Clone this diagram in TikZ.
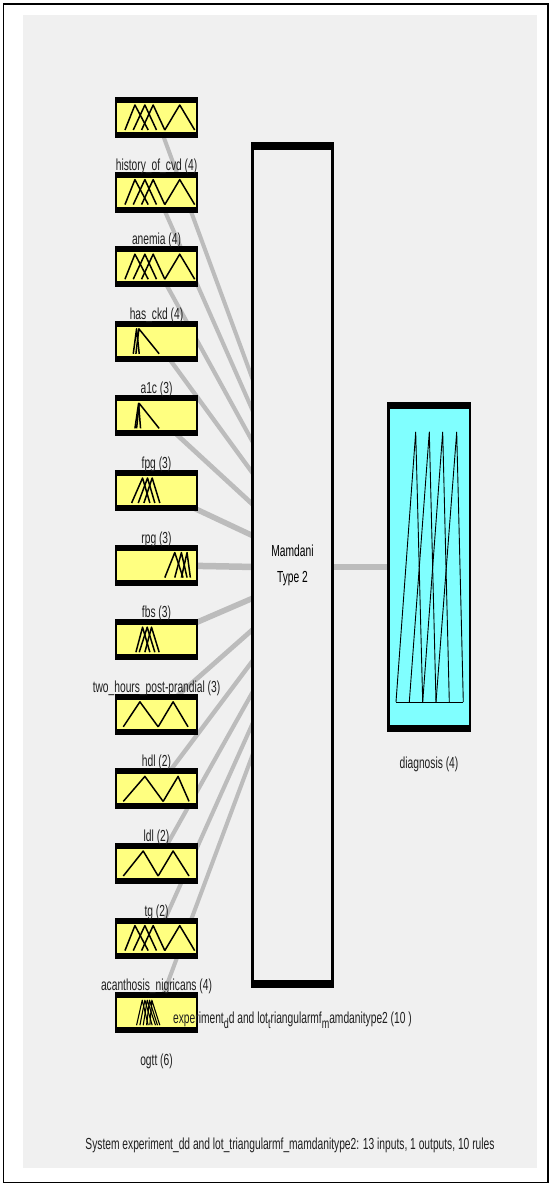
\documentclass[tikz,border=0pt]{standalone}
\usepackage{fontspec}
\setmainfont{Liberation Sans}
\usepackage{graphicx}
\usetikzlibrary{calc}
\pgfdeclarelayer{backdrop}
\pgfdeclarelayer{background}
\pgfsetlayers{backdrop,background,main}

\definecolor{panel}{RGB}{240,240,240}
\definecolor{mfyellow}{RGB}{255,255,128}
\definecolor{mfcyan}{RGB}{128,255,255}
\definecolor{wirecol}{RGB}{188,188,188}

% narrow (condensed) text
\newcommand{\sq}[1]{\scalebox{0.64}[1]{#1}}
% lowered subscript letter
\newcommand{\sbs}[1]{\raisebox{-0.6ex}{\fontsize{14}{14}\selectfont #1}}
% membership functions of one input box: list of left/peak/right
\newcommand{\mfs}[3][1.5pt]{%
  \begin{scope}[shift={(#2.north west)}, x=0.332pt]
    \foreach \ta/\tb/\tc in {#3} {\draw[mfline, line width=#1] (\ta,33) -- (\tb,8) -- (\tc,33);}
  \end{scope}}

\tikzset{
  inbox/.style={rectangle, fill=black, minimum width=83pt, minimum height=41pt,
    inner sep=0pt, outer sep=0pt,
    path picture={\fill[mfyellow] ([xshift=2pt,yshift=6pt]path picture bounding box.south west)
      rectangle ([xshift=-2pt,yshift=-6pt]path picture bounding box.north east);}},
  outbox/.style={rectangle, fill=black, minimum width=84pt, minimum height=330pt,
    inner sep=0pt, outer sep=0pt,
    path picture={\fill[mfcyan] ([xshift=2.5pt,yshift=7pt]path picture bounding box.south west)
      rectangle ([xshift=-2.5pt,yshift=-7pt]path picture bounding box.north east);}},
  sysbox/.style={rectangle, draw=black, line width=3pt, fill=panel, minimum width=80pt,
    minimum height=843pt, inner sep=0pt, outer sep=0pt, align=center,
    font=\fontsize{16}{26}\selectfont,
    path picture={
      \fill[black] (path picture bounding box.north west) rectangle ([yshift=-6pt]path picture bounding box.north east);
      \fill[black] (path picture bounding box.south west) rectangle ([yshift=7pt]path picture bounding box.south east);}},
  lbl/.style={inner sep=0pt, font=\fontsize{16}{18}\selectfont, text=black!88},
  mfline/.style={black, line join=round},
  outmf/.style={black, line width=0.9pt, line join=round},
  wire/.style={wirecol}
}

\begin{document}
\begin{tikzpicture}[x=1pt,y=-1pt]
\useasboundingbox (0,0) rectangle (550,1184);

% figure frame and grey panel
\begin{pgfonlayer}{backdrop}
  \fill[white] (0,0) rectangle (550,1184);
  \draw[line width=1.2pt] (3.5,4) rectangle (548,1182.5);
  \fill[panel] (23,15) rectangle (537,1168);
\end{pgfonlayer}

% input variable boxes
\foreach \i in {1,...,13} {
  \pgfmathsetmacro\cy{117.5+(\i-1)*74.6}
  \node[inbox] (in\i) at (156.5,\cy) {};
}

% inference system and output boxes
\node[sysbox] (sys) at (292.5,565) {\sq{Mamdani}\\\sq{Type 2}};
\node[outbox] (out) at (429,567) {};

% membership functions of the inputs
\mfs{in1}{30/60/100, 55/90/125, 80/115/150, 150/195/240}
\mfs{in2}{30/60/100, 55/90/125, 80/115/150, 150/195/240}
\mfs{in3}{30/60/100, 55/90/125, 80/115/150, 150/195/240}
\mfs{in4}{55/65/73, 63/72/133}
\mfs{in5}{60/71/77, 65/73/133}
\mfs{in6}{50/83/105, 70/98/120, 87/112/135}
\mfs{in7}{150/180/205, 180/200/217, 200/217/227}
\mfs{in8}{63/83/105, 73/97/120, 90/110/133}
\mfs{in9}{25/75/130, 130/175/220}
\mfs{in10}{25/90/145, 145/190/223}
\mfs{in11}{25/85/130, 130/175/223}
\mfs{in12}{30/60/100, 55/90/125, 80/115/150, 150/195/240}
\mfs[1.1pt]{in13}{65/82/100, 75/90/112, 85/97/122, 95/104/128, 105/111/135}

% membership functions of the output
\begin{scope}[shift={(out.north west)}]
  \foreach \ta/\tb/\tc in {9/28.7/35.7, 22.3/42.3/49, 35.7/55.7/62.3, 49/69.7/76.3}
    {\draw[outmf] (\ta,300) -- (\tb,30) -- (\tc,300);}
  \draw[outmf] (9,300) -- (76.3,300);
\end{scope}

% connectors
\begin{pgfonlayer}{background}
  \foreach \i in {1,...,13} {
    \pgfmathsetmacro\dy{abs(567+(\i-7)*30-(117.5+(\i-1)*74.6))}
    \pgfmathsetmacro\tn{\dy/54}
    \pgfmathsetmacro\lw{6.5*sqrt(1+0.36*\tn*\tn)/sqrt(1+\tn*\tn)}
    \draw[wire, line width=\lw pt] (in\i.center) -- ($(sys.west)+(3,{2+(\i-7)*30})$);
  }
  \draw[wire, line width=6.5pt] (sys.center |- out.center) -- (out.center);
\end{pgfonlayer}

% variable names
\foreach \i/\txt in {1/history\_of\_cvd (4), 2/anemia (4), 3/has\_ckd (4), 4/a1c (3),
    5/fpg (3), 6/rpg (3), 7/fbs (3), 8/two\_hours\_post-prandial (3), 9/hdl (2),
    10/ldl (2), 11/tg (2), 12/acanthosis\_nigricans (4), 13/ogtt (6)} {
  \pgfmathsetmacro\by{170+(\i-1)*74.6}
  \node[lbl, anchor=base] (lab\i) at (156.5,\by) {\sq{\txt}};
}
\node[lbl, anchor=base] (outlab) at (429,768) {\sq{diagnosis (4)}};
\node[lbl, anchor=base] (sysname) at (292.5,1023)
  {\sq{experiment\sbs{d}d and lot\sbs{t}riangularmf\sbs{m}amdanitype2 (10 )}};
\node[lbl, anchor=base] (title) at (290,1149)
  {\sq{System experiment\_dd and lot\_triangularmf\_mamdanitype2: 13 inputs, 1 outputs, 10 rules}};
\end{tikzpicture}
\end{document}
